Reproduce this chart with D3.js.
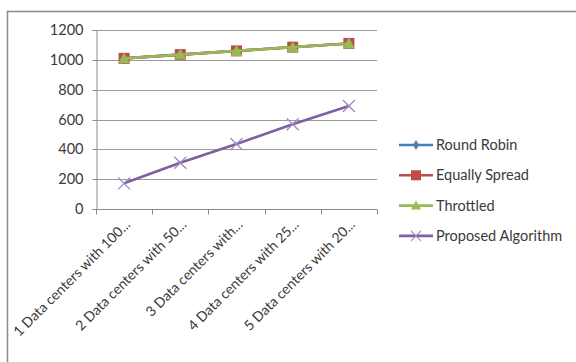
<!DOCTYPE html>
<html><head><meta charset="utf-8">
<script src="https://cdn.jsdelivr.net/npm/d3@7"></script>
<style>body{margin:0;background:#fff}svg{display:block}text{font-family:Lato,"Open Sans",sans-serif;fill:#3a3a3a}</style>
</head><body><svg id="c" width="576" height="362"></svg>
<script>
const categories = ["1 Data centers with 100...","2 Data centers with 50...","3 Data centers with...","4 Data centers with 25...","5 Data centers with 20..."];
const roundRobin = [1010,1035,1060,1085,1110];
const equallySpread = [1010,1035,1060,1085,1110];
const throttled = [1010,1035,1060,1085,1110];
const proposed = [172,310,436,568,690];
const yTicks = [0,200,400,600,800,1000,1200];
const seriesNames = ["Round Robin","Equally Spread","Throttled","Proposed Algorithm"];

const series = [
  {name:seriesNames[0], values:roundRobin, color:"#4A7EBB", marker:"diamond"},
  {name:seriesNames[1], values:equallySpread, color:"#BE4B48", marker:"square"},
  {name:seriesNames[2], values:throttled, color:"#98B954", marker:"triangle"},
  {name:seriesNames[3], values:proposed, color:"#7D60A0", marker:"x"}
];

const FS = "14.5px";
const svg = d3.select("#c");
const L=96, R=377, T=30, B=209;
svg.append("path").attr("d","M7.5,362 V11.5 H576").attr("fill","none").attr("stroke","#8a8a8a").attr("stroke-width",1.5);

const x = d3.scaleBand().domain(categories).range([L,R]);
const y = d3.scaleLinear().domain([0,1200]).range([B,T]);

svg.append("g").selectAll("line").data(yTicks.filter(d=>d>0)).join("line")
  .attr("x1",L).attr("x2",R).attr("y1",d=>Math.round(y(d))+0.5).attr("y2",d=>Math.round(y(d))+0.5)
  .attr("stroke","#9a9a9a").attr("stroke-width",1);

const ya = svg.append("g").attr("transform",`translate(${L+0.5},0)`).call(d3.axisLeft(y).tickValues(yTicks).tickSize(4).tickPadding(9).tickFormat(d3.format("d")));
ya.selectAll("path,line").attr("stroke","#8a8a8a");
ya.selectAll("text").attr("font-size",FS).attr("fill","#3a3a3a").style("font-family","Lato");
ya.selectAll(".tick").attr("transform",d=>`translate(0,${Math.round(y(d))+0.5})`);

const xa = svg.append("g").attr("transform",`translate(0,${B+0.5})`);
xa.append("line").attr("x1",L).attr("x2",R).attr("stroke","#8a8a8a");
const edges = categories.map(c=>x(c)).concat([R]);
xa.selectAll("line.t").data(edges).join("line").attr("class","t")
  .attr("x1",d=>Math.round(d)+0.5).attr("x2",d=>Math.round(d)+0.5).attr("y1",0).attr("y2",5).attr("stroke","#8a8a8a");
xa.selectAll("text").data(categories).join("text")
  .attr("transform",d=>`translate(${x(d)+x.bandwidth()/2+7},${16}) rotate(-45)`)
  .attr("text-anchor","end").attr("font-size","14px").text(d=>d);

const line = d3.line().x((d,i)=>x(categories[i])+x.bandwidth()/2).y(d=>y(d));
function drawMarker(g,m,color){
  if(m==="x") g.append("path").attr("d","M-6,-6L6,6M-6,6L6,-6").attr("stroke","#9C8CC4").attr("stroke-width",1.3).attr("fill","none");
  else if(m==="square") g.append("path").attr("d","M-5.5,-5.5H5.5V5.5H-5.5Z").attr("fill",color);
  else if(m==="triangle") g.append("path").attr("d","M0,-6L6,5H-6Z").attr("fill",color);
  else g.append("path").attr("d",d3.symbol(d3.symbolDiamond,40)()).attr("fill",color);
}
series.forEach(s=>{
  const g = svg.append("g");
  g.append("path").datum(s.values).attr("d",line).attr("fill","none").attr("stroke",s.color).attr("stroke-width",2.6);
  s.values.forEach((v,i)=>{
    const mg = g.append("g").attr("transform",`translate(${x(categories[i])+x.bandwidth()/2},${y(v)})`);
    drawMarker(mg,s.marker,s.color);
  });
});

const lg = svg.append("g");
series.forEach((s,i)=>{
  const yy = 145 + i*30.3;
  const g = lg.append("g").attr("transform",`translate(0,${yy})`);
  g.append("line").attr("x1",399).attr("x2",433).attr("stroke",s.color).attr("stroke-width",2.6);
  const mg = g.append("g").attr("transform","translate(416,0)");
  if(s.marker==="x") mg.append("path").attr("d","M-5,-5L5,5M-5,5L5,-5").attr("stroke","#9C8CC4").attr("stroke-width",1.2);
  else if(s.marker==="square") mg.append("path").attr("d","M-5,-5H5V5H-5Z").attr("fill",s.color);
  else if(s.marker==="triangle") mg.append("path").attr("d","M0,-5L5,4H-5Z").attr("fill",s.color);
  else mg.append("path").attr("d",d3.symbol(d3.symbolDiamond,30)()).attr("fill",s.color);
  g.append("text").attr("x",436).attr("y",5).attr("font-size",FS).text(s.name);
});
</script></body></html>
